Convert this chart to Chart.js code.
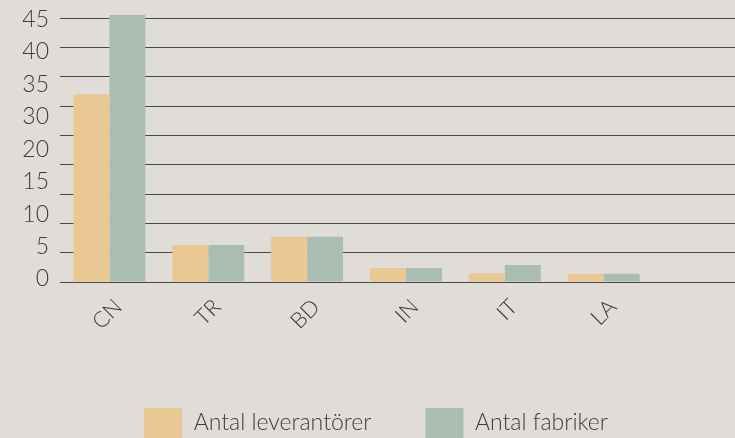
<!DOCTYPE html>
<html>
<head>
<meta charset="utf-8">
<script src="https://cdn.jsdelivr.net/npm/chart.js@4.4.1/dist/chart.umd.min.js"></script>
<style>
  html, body { margin: 0; padding: 0; background: #e0ddd9; overflow: hidden; }
  #wrap { width: 752px; height: 448px; }
</style>
</head>
<body>
<div id="wrap"><canvas id="myChart" width="752" height="448"></canvas></div>
<script>
// data
const countries = ['CN', 'TR', 'BD', 'IN', 'IT', 'LA', ''];
const suppliers = [32, 6.3, 7.7, 2.4, 1.5, 1.4, null];
const factories = [45.5, 6.3, 7.7, 2.4, 2.9, 1.4, null];
const tickLabels = ['0', '5', '10', '15', '20', '30', '35', '40', '45'];

const textColor = '#3f3d3a';
const fontFamily = 'Lato, "Open Sans", sans-serif';

const ctx = document.getElementById('myChart').getContext('2d');
const myChart = new Chart(ctx, {
  type: 'bar',
  data: {
    labels: countries,
    datasets: [{
      label: 'Antal leverantörer',
      data: suppliers,
      backgroundColor: '#e9c894',
      clip: false
    }, {
      label: 'Antal fabriker',
      data: factories,
      backgroundColor: '#aabdb2',
      clip: false
    }]
  },
  options: {
    responsive: false,
    animation: false,
    layout: { padding: { top: 18, left: 0, right: 0, bottom: 0 } },
    datasets: {
      bar: { barPercentage: 1, categoryPercentage: 0.727 }
    },
    scales: {
      x: {
        grid: { display: false },
        border: { display: false },
        ticks: {
          color: textColor,
          font: { family: fontFamily, size: 22, weight: 300 },
          minRotation: 45,
          maxRotation: 45,
          padding: 4,
          labelOffset: 9
        },
        afterFit: axis => { axis.height = 72; }
      },
      y: {
        min: 0,
        max: 45,
        grid: { color: '#4a4845', lineWidth: 1, drawTicks: false },
        border: { display: false },
        ticks: { display: false, stepSize: 5 },
        afterFit: axis => { axis.width = 0; axis.paddingTop = 0; axis.paddingBottom = 0; }
      },
      // labels of the y axis (not spaced like the gridlines in the original)
      yl: {
        position: 'left',
        min: -0.0925,
        max: 8.046,
        grid: { display: false, drawTicks: false },
        border: { display: false },
        afterBuildTicks: axis => {
          axis.ticks = tickLabels.map((t, i) => ({ value: i }));
        },
        ticks: {
          color: textColor,
          padding: 11,
          font: { family: fontFamily, size: 23, weight: 300 },
          callback: (value, index) => tickLabels[index]
        },
        afterFit: axis => { axis.width = 60; axis.paddingTop = 0; axis.paddingBottom = 0; }
      }
    },
    plugins: {
      legend: {
        position: 'bottom',
        maxHeight: 200,
        labels: {
          color: textColor,
          font: { family: fontFamily, size: 23, weight: 300 },
          boxWidth: 38,
          boxHeight: 30,
          padding: 54
        }
      },
      tooltip: { enabled: false }
    }
  }
});
</script>
</body>
</html>
